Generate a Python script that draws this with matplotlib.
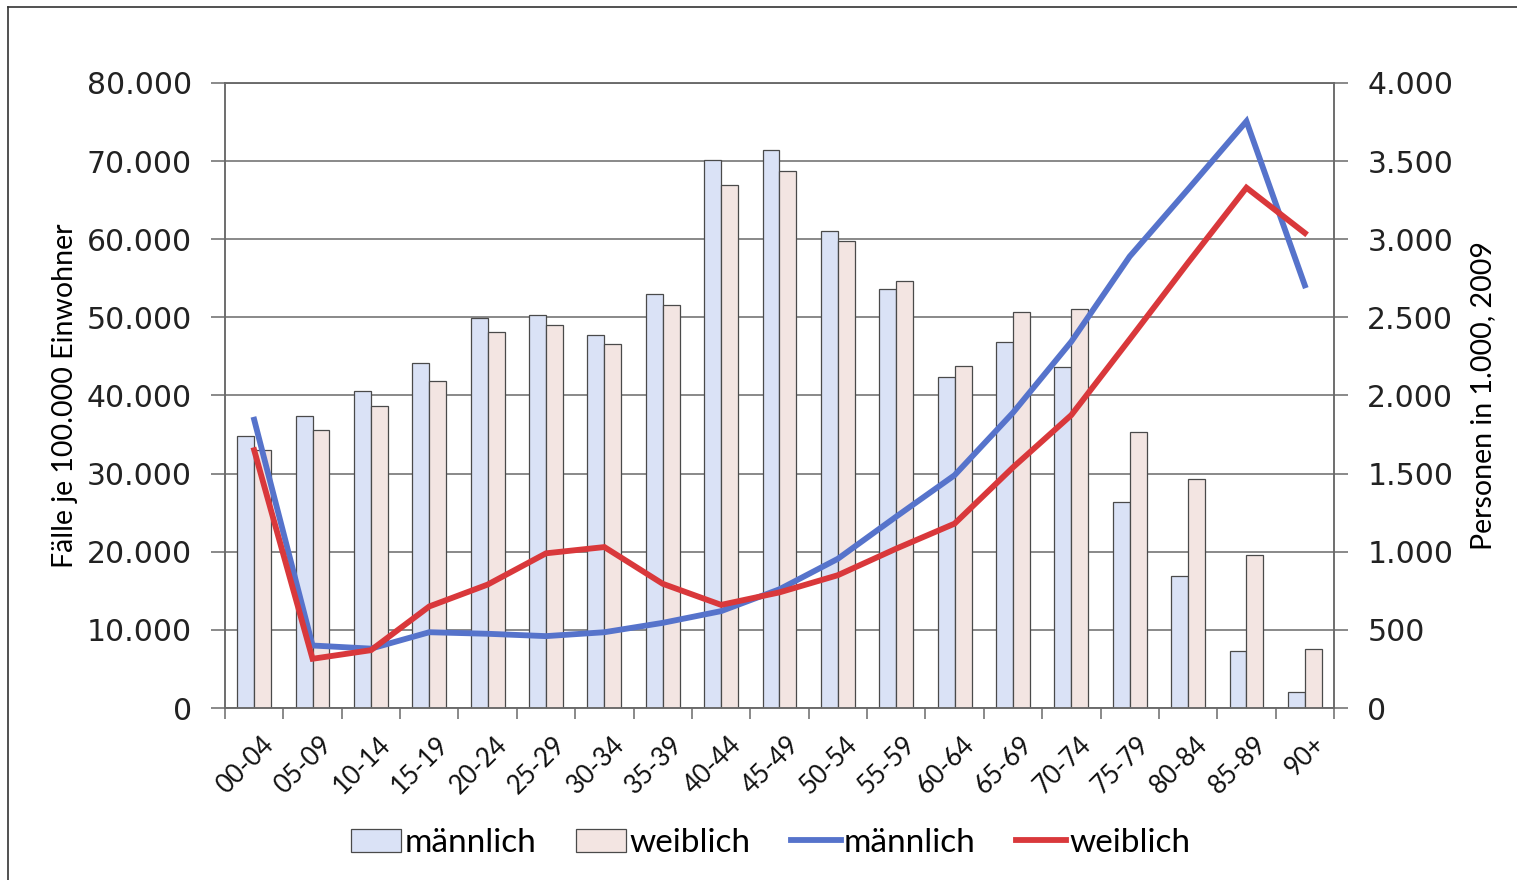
import matplotlib
matplotlib.use("Agg")
import matplotlib.pyplot as plt
import numpy as np
from matplotlib.ticker import FuncFormatter, MultipleLocator
from matplotlib.patches import Patch
from matplotlib.lines import Line2D

# Altersgruppen
age_groups = ["00-04", "05-09", "10-14", "15-19", "20-24", "25-29", "30-34",
              "35-39", "40-44", "45-49", "50-54", "55-59", "60-64", "65-69",
              "70-74", "75-79", "80-84", "85-89", "90+"]

# Bevölkerung in 1.000 (rechte Achse)
pop_male = [1742, 1867, 2028, 2208, 2499, 2512, 2388, 2651, 3504, 3573,
            3053, 2679, 2116, 2343, 2180, 1320, 842, 365, 105]
pop_female = [1654, 1778, 1931, 2091, 2407, 2452, 2330, 2576, 3346, 3438,
              2989, 2734, 2186, 2532, 2554, 1765, 1468, 978, 376]

# Fälle je 100.000 Einwohner (linke Achse)
rate_male = [36900, 8000, 7600, 9700, 9500, 9200, 9700, 10900, 12400, 15200,
             19100, 24500, 29800, 37800, 46900, 57800, 66400, 75100, 54100]
rate_female = [33000, 6300, 7400, 13000, 15800, 19800, 20600, 15900, 13200,
               14800, 17000, 20400, 23600, 30800, 37500, 47200, 57000, 66600, 60800]

male_bar_color = "#dae2f6"
female_bar_color = "#f3e5e2"
male_line_color = "#5673cb"
female_line_color = "#d9383b"
grid_color = "#6a6a6a"
text_font = ["Lato", "DejaVu Sans"]

fig = plt.figure(figsize=(15.17, 8.80), dpi=100)
ax = fig.add_axes([225 / 1517, 1 - 708 / 880, (1334 - 225) / 1517, (708 - 83) / 880])
ax2 = ax.twinx()

x = np.arange(len(age_groups))
w = 0.29

# Balken: Bevölkerung auf rechter Achse
ax2.bar(x - w / 2, pop_male, width=w, color=male_bar_color,
        edgecolor="#4a4a4a", linewidth=0.9, zorder=2)
ax2.bar(x + w / 2, pop_female, width=w, color=female_bar_color,
        edgecolor="#4a4a4a", linewidth=0.9, zorder=2)
ax2.set_ylim(0, 4000)
ax2.yaxis.set_major_locator(MultipleLocator(500))
ax2.set_axisbelow(True)
ax2.grid(axis="y", color=grid_color, linewidth=1.1, zorder=0)

# Linien: Fallzahlen auf linker Achse, über den Balken
ax.set_zorder(ax2.get_zorder() + 1)
ax.patch.set_visible(False)
ax.plot(x, rate_male, color=male_line_color, linewidth=4.2,
        solid_joinstyle="miter", zorder=3)
ax.plot(x, rate_female, color=female_line_color, linewidth=4.2,
        solid_joinstyle="miter", zorder=4)
ax.set_ylim(0, 80000)
ax.yaxis.set_major_locator(MultipleLocator(10000))
ax.set_xlim(-0.5, len(age_groups) - 0.5)

def dotted_thousands(v, pos):
    return f"{int(round(v)):,}".replace(",", ".")

ax.yaxis.set_major_formatter(FuncFormatter(dotted_thousands))
ax2.yaxis.set_major_formatter(FuncFormatter(dotted_thousands))

for a in (ax, ax2):
    for s in a.spines.values():
        s.set_color(grid_color)
        s.set_linewidth(1.1)
    a.tick_params(axis="y", length=10, width=1.1, color=grid_color,
                  labelsize=21.5, pad=14)
for lab in ax.get_yticklabels() + ax2.get_yticklabels():
    lab.set_fontfamily(["DejaVu Sans"])
    lab.set_color("#222222")

# Kategorieachse: Striche an den Gruppengrenzen
ax.set_xticks(np.arange(len(age_groups) + 1) - 0.5)
ax.set_xticklabels([])
ax.tick_params(axis="x", length=8, width=1.1, color=grid_color)
for i, lab in enumerate(age_groups):
    ax.annotate(lab, xy=(i, 0), xycoords=("data", "axes fraction"),
                xytext=(5, -17), textcoords="offset points",
                rotation=45, ha="right", va="top", rotation_mode="anchor",
                fontsize=18.5, family=text_font, color="#111111")

ax.set_ylabel("Fälle je 100.000 Einwohner", fontsize=20.5,
              family=text_font, labelpad=6)
ax2.set_ylabel("Personen in 1.000, 2009", fontsize=20.5,
               family=text_font, labelpad=12)

handles = [
    Patch(facecolor=male_bar_color, edgecolor="#4a4a4a", linewidth=0.9),
    Patch(facecolor=female_bar_color, edgecolor="#4a4a4a", linewidth=0.9),
    Line2D([0], [0], color=male_line_color, linewidth=4.2),
    Line2D([0], [0], color=female_line_color, linewidth=4.2),
]
labels = ["männlich", "weiblich", "männlich", "weiblich"]
fig.legend(handles, labels, loc="center", bbox_to_anchor=(0.508, 0.042),
           ncol=4, frameon=False, handlelength=1.5, handleheight=0.7,
           handletextpad=0.1, columnspacing=1.2,
           prop={"family": text_font, "size": 24})

# Rahmen um die Grafik (links und oben)
fig.add_artist(Line2D([8 / 1517, 8 / 1517], [0, 1 - 7 / 880],
                      transform=fig.transFigure, color="#333333", linewidth=1.2))
fig.add_artist(Line2D([8 / 1517, 1], [1 - 7 / 880, 1 - 7 / 880],
                      transform=fig.transFigure, color="#333333", linewidth=1.2))

fig.savefig("out.png", dpi=100, facecolor="white")
